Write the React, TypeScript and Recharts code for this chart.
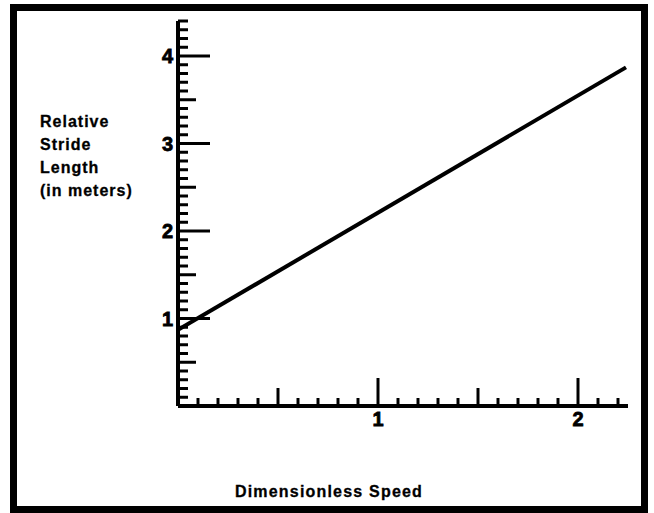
import React from "react";
import { LineChart, XAxis, YAxis, Line } from "recharts";

// values
const speed = [0, 2.24];
const strideLength = [0.87, 3.87];

const yTicks = Array.from({ length: 44 }, (_, i) => Math.round((i + 1) * 10) / 100);
const xTicks = Array.from({ length: 22 }, (_, i) => Math.round((i + 1) * 10) / 100);
const yTickLabels = ["1", "2", "3", "4"];
const xTickLabels = ["1", "2"];

const data = speed.map((x, i) => ({ x, y: strideLength[i] }));

const FONT = "'Liberation Sans', Arial, sans-serif";

const kind = (v: number) => {
  if (Math.abs(v - Math.round(v)) < 1e-6) return "major";
  if (Math.abs(v * 2 - Math.round(v * 2)) < 1e-6) return "half";
  return "minor";
};

const YTick = (props: any) => {
  const { x, y, payload } = props;
  const v = payload.value;
  const k = kind(v);
  const len = k === "major" ? 32 : k === "half" ? 18 : 10;
  const label = yTickLabels.find((l) => Number(l) === Math.round(v));
  return (
    <g>
      <line x1={x} x2={x + len} y1={y} y2={y} stroke="#000" strokeWidth={3} />
      {k === "major" && label && (
        <text
          x={x - 5}
          y={y}
          dy="0.36em"
          textAnchor="end"
          fontFamily={FONT}
          fontWeight="bold"
          fontSize={20}
          fill="#000"
          stroke="#000"
          strokeWidth={0.8}
        >
          {label}
        </text>
      )}
    </g>
  );
};

const XTick = (props: any) => {
  const { x, y, payload } = props;
  const v = payload.value;
  const k = kind(v);
  const len = k === "major" ? 28 : k === "half" ? 18 : 8;
  const label = xTickLabels.find((l) => Number(l) === Math.round(v));
  return (
    <g>
      <line x1={x} x2={x} y1={y} y2={y - len} stroke="#000" strokeWidth={3} />
      {k === "major" && label && (
        <text
          x={x}
          y={y + 13}
          dy="0.36em"
          textAnchor="middle"
          fontFamily={FONT}
          fontWeight="bold"
          fontSize={20}
          fill="#000"
          stroke="#000"
          strokeWidth={0.8}
        >
          {label}
        </text>
      )}
    </g>
  );
};

const App = () => {
  return (
    <div style={{ position: "absolute", left: 0, top: 0, width: 654, height: 513 }}>
      <div
        style={{
          position: "absolute",
          left: 10,
          top: 4,
          width: 638,
          height: 509,
          border: "7px solid #000",
          boxSizing: "border-box",
        }}
      />
      <div
        style={{
          position: "absolute",
          left: 40,
          top: 110,
          fontFamily: FONT,
          fontWeight: "bold",
          fontSize: 16,
          lineHeight: "23px",
          letterSpacing: 1,
          color: "#000",
          WebkitTextStroke: "0.3px #000",
        }}
      >
        Relative
        <br />
        Stride
        <br />
        Length
        <br />
        (in meters)
      </div>
      <div
        style={{
          position: "absolute",
          left: 0,
          width: 658,
          top: 481,
          textAlign: "center",
          fontFamily: FONT,
          fontWeight: "bold",
          fontSize: 16,
          lineHeight: "22px",
          letterSpacing: 1.2,
          color: "#000",
          WebkitTextStroke: "0.3px #000",
        }}
      >
        Dimensionless Speed
      </div>
      <div style={{ position: "absolute", left: 0, top: 0 }}>
        <LineChart
          width={654}
          height={513}
          data={data}
          margin={{ top: 21, right: 26, left: 138, bottom: 77 }}
        >
          <XAxis
            dataKey="x"
            type="number"
            domain={[0, 2.25]}
            ticks={xTicks}
            interval={0}
            height={30}
            tickSize={0}
            tickMargin={0}
            tick={<XTick />}
            axisLine={{ stroke: "#000", strokeWidth: 4 }}
            tickLine={false}
            allowDataOverflow
          />
          <YAxis
            type="number"
            domain={[0, 4.4]}
            ticks={yTicks}
            interval={0}
            width={40}
            tickSize={0}
            tickMargin={0}
            tick={<YTick />}
            axisLine={{ stroke: "#000", strokeWidth: 4 }}
            tickLine={false}
            allowDataOverflow
          />
          <Line
            dataKey="y"
            type="linear"
            stroke="#000"
            strokeWidth={4}
            dot={false}
            isAnimationActive={false}
          />
        </LineChart>
      </div>
    </div>
  );
};

export default App;
